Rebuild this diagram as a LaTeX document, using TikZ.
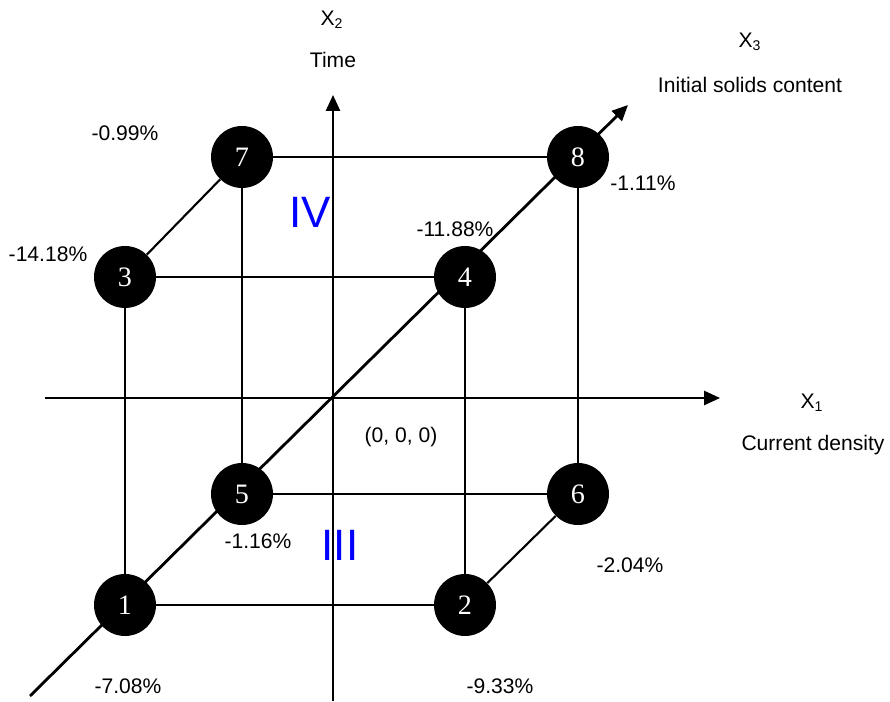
\documentclass[tikz,border=0pt]{standalone}
\usepackage{fontspec}
\setmainfont{Liberation Sans}
\newfontfamily\numfont{Liberation Serif}
\usetikzlibrary{arrows.meta}

\tikzset{
  corner/.style={circle, fill=black, minimum size=1.24cm, inner sep=0pt,
    text=white, font=\numfont\fontsize{16}{16}\selectfont},
  edge/.style={line width=1.2pt},
  axis/.style={line width=1.2pt, -{Triangle[length=9pt,width=8pt]}},
  pct/.style={font=\fontsize{12}{14}\selectfont},
  region/.style={text=blue, font=\fontsize{25}{25}\selectfont},
  axlabel/.style={font=\fontsize{12}{14}\selectfont},
}

\begin{document}
\begin{tikzpicture}

\useasboundingbox (0,0) rectangle (17.8,14.02);

% AXES
\coordinate (x1a) at (0.9,6.06);
\coordinate (x1b) at (14.4,6.06);
\coordinate (x2a) at (6.66,0.0);
\coordinate (x2b) at (6.66,12.12);
\coordinate (x3a) at (0.6,0.1);
\coordinate (x3b) at (12.56,11.92);
\draw[axis] (x1a) -- (x1b);
\draw[axis] (x2a) -- (x2b);
\draw[axis, line width=1.6pt] (x3a) -- (x3b);

\node[axlabel] (x1) at (16.24,5.96) {X\textsubscript{1}};
\node[axlabel] (x1t) at (16.26,5.12) {Current density};
\node[axlabel] (x2) at (6.64,13.62) {X\textsubscript{2}};
\node[axlabel] (x2t) at (6.66,12.82) {Time};
\node[axlabel] (x3) at (15.0,13.18) {X\textsubscript{3}};
\node[axlabel] (x3t) at (15.0,12.32) {Initial solids content};
\node[axlabel] (orig) at (8.02,5.28) {(0, 0, 0)};

% CUBE
\node[corner] (n1) at (2.5,1.92) {1};
\node[corner] (n2) at (9.3,1.92) {2};
\node[corner] (n3) at (2.5,8.48) {3};
\node[corner] (n4) at (9.3,8.48) {4};
\node[corner] (n5) at (4.84,4.14) {5};
\node[corner] (n6) at (11.56,4.14) {6};
\node[corner] (n7) at (4.84,10.88) {7};
\node[corner] (n8) at (11.56,10.88) {8};

\draw[edge] (n1) -- (n2);
\draw[edge] (n3) -- (n4);
\draw[edge] (n1) -- (n3);
\draw[edge] (n2) -- (n4);
\draw[edge] (n5) -- (n6);
\draw[edge] (n7) -- (n8);
\draw[edge] (n5) -- (n7);
\draw[edge] (n6) -- (n8);
\draw[edge] (n3) -- (n7);
\draw[edge] (n2) -- (n6);

% RESPONSES
\node[pct] (p7) at (2.5,11.36) {-0.99\%};
\node[pct] (p3) at (0.96,8.94) {-14.18\%};
\node[pct] (p4) at (9.1,9.44) {-11.88\%};
\node[pct] (p8) at (12.86,10.36) {-1.11\%};
\node[pct] (p5) at (5.16,3.2) {-1.16\%};
\node[pct] (p6) at (12.6,2.72) {-2.04\%};
\node[pct] (p1) at (2.56,0.3) {-7.08\%};
\node[pct] (p2) at (10.0,0.3) {-9.33\%};

% QUADRANTS
\node[region] (q4) at (6.2,9.78) {IV};
\node[region] (q3) at (6.8,3.12) {III};

\end{tikzpicture}
\end{document}
